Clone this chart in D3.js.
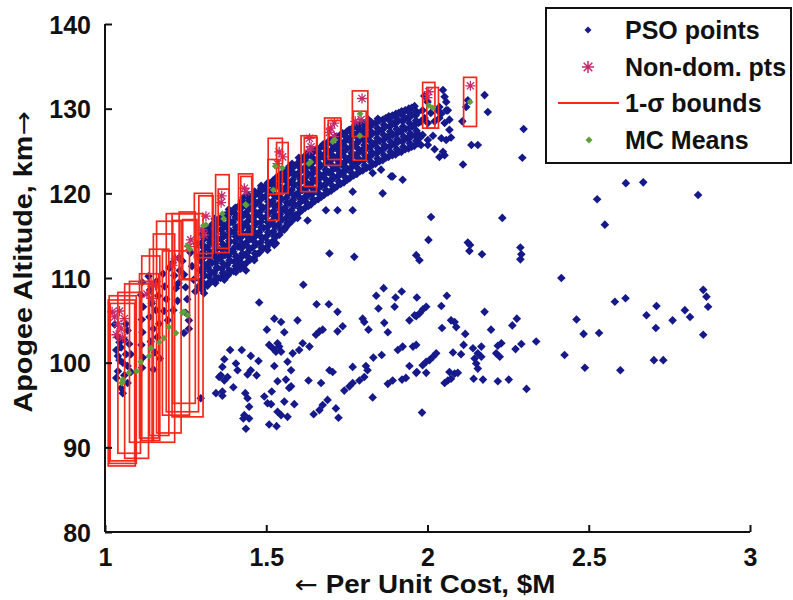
<!DOCTYPE html>
<html>
<head>
<meta charset="utf-8">
<script src="https://cdn.jsdelivr.net/npm/d3@7"></script>
<style>
  body { margin: 0; background: #fff; }
  svg text { font-family: "Liberation Sans", Arial, sans-serif; font-weight: bold; fill: #111; }
  svg tspan.arrow { font-family: "DejaVu Sans", sans-serif; font-weight: normal; }
</style>
</head>
<body>
<svg id="chart" width="793" height="600"></svg>
<script>
// axis ticks
let xTicks = [1, 1.5, 2, 2.5, 3];
let yTicks = [80, 90, 100, 110, 120, 130, 140];

// PSO points inside the 1-sigma boxes on the left
let psoInBoxes = [
  [1.03,104.5],[1.04,103.0],[1.035,101.5],[1.045,100.3],[1.04,99.0],[1.05,101.8],[1.055,100.0],[1.06,102.7],
  [1.065,101.0],[1.07,99.6],[1.06,98.5],[1.07,103.8],[1.075,102.2],[1.05,97.0],[1.055,96.4],[1.035,98.2],
  [1.045,102.4],[1.065,104.6],[1.08,101.0],[1.08,98.9],[1.04,100.8],[1.07,97.6],
  [1.115,109.5],[1.112,108.0],[1.118,106.6],[1.114,105.1],[1.116,103.6],[1.113,102.1],[1.117,100.6],[1.115,99.4],
  [1.135,110.2],[1.14,108.6],[1.145,107.0],[1.138,105.4],[1.15,104.0],[1.142,102.5],[1.155,101.2],[1.16,109.6],
  [1.165,107.9],[1.158,106.2],[1.168,104.6],[1.162,103.0],[1.17,100.5],[1.15,99.2],
  [1.18,110.5],[1.185,109.0],[1.19,107.5],[1.183,106.1],[1.195,105.0],[1.2,111.2],
  [1.21,111.8],[1.215,110.3],[1.22,108.8],[1.225,107.3],[1.212,106.2],[1.23,112.4],[1.232,110.9],[1.228,109.4],
  [1.24,112.0],[1.245,110.4],[1.25,108.9],[1.255,107.5],[1.25,105.9],[1.26,105.0],[1.265,113.0],[1.27,111.4],
  [1.275,109.8],[1.28,108.4],[1.285,114.0],[1.29,112.5],[1.295,110.9],[1.3,109.3],[1.297,95.8],[1.26,104.0],[1.245,103.5]
];

// dense PSO band
let psoBand = [
  [1.302,108.6],[1.298,109.7],[1.304,110.8],[1.300,111.9],[1.303,113.0],[1.299,114.1],[1.301,115.2],
  [1.318,109.1],[1.322,110.2],[1.319,111.3],[1.323,112.5],[1.317,113.6],[1.321,114.7],[1.320,115.8],
  [1.342,109.4],[1.338,110.6],[1.343,111.8],[1.339,112.9],[1.341,114.0],[1.337,115.1],[1.344,116.2],[1.340,117.0],
  [1.358,110.0],[1.362,111.1],[1.357,112.3],[1.363,113.4],[1.359,114.6],[1.361,115.7],[1.356,116.8],
  [1.381,110.3],[1.378,111.5],[1.383,112.6],[1.379,113.8],[1.382,114.9],[1.377,116.0],[1.380,117.2],[1.384,118.1],
  [1.399,110.8],[1.402,111.9],[1.398,113.1],[1.403,114.3],[1.400,115.4],[1.397,116.6],[1.401,117.7],
  [1.421,111.1],[1.418,112.3],[1.423,113.5],[1.419,114.7],[1.422,115.8],[1.417,117.0],[1.420,118.2],[1.424,119.1],
  [1.439,111.8],[1.442,113.0],[1.438,114.2],[1.443,115.4],[1.440,116.6],[1.437,117.7],[1.441,118.9],[1.444,119.8],
  [1.461,112.3],[1.458,113.6],[1.463,114.8],[1.459,116.0],[1.462,117.2],[1.457,118.4],[1.460,119.6],
  [1.479,113.0],[1.482,114.2],[1.478,115.4],[1.483,116.6],[1.480,117.8],[1.477,119.0],[1.481,120.2],[1.484,120.9],
  [1.501,113.6],[1.498,114.8],[1.503,116.0],[1.499,117.2],[1.502,118.4],[1.497,119.6],[1.500,120.8],
  [1.519,114.3],[1.522,115.5],[1.518,116.7],[1.523,117.9],[1.520,119.1],[1.517,120.3],[1.521,121.5],
  [1.541,115.1],[1.538,116.3],[1.543,117.5],[1.539,118.7],[1.542,119.9],[1.537,121.0],[1.540,122.1],
  [1.559,115.9],[1.562,117.1],[1.558,118.3],[1.563,119.5],[1.560,120.7],[1.557,121.8],[1.561,122.7],
  [1.581,116.8],[1.578,118.0],[1.583,119.2],[1.579,120.4],[1.582,121.6],[1.577,122.7],[1.580,123.5],
  [1.599,117.6],[1.602,118.8],[1.598,120.0],[1.603,121.2],[1.600,122.4],[1.597,123.5],[1.601,124.2],
  [1.621,118.3],[1.618,119.5],[1.623,120.7],[1.619,121.9],[1.622,123.1],[1.617,124.3],
  [1.639,118.7],[1.642,119.9],[1.638,121.1],[1.643,122.3],[1.640,123.5],[1.637,124.6],[1.641,125.1],
  [1.661,119.3],[1.658,120.5],[1.663,121.7],[1.659,122.9],[1.662,124.1],[1.657,125.3],
  [1.679,119.8],[1.682,121.0],[1.678,122.2],[1.683,123.4],[1.680,124.6],[1.677,125.8],
  [1.701,120.3],[1.698,121.5],[1.703,122.7],[1.699,123.9],[1.702,125.1],[1.697,126.2],
  [1.719,120.8],[1.722,122.0],[1.718,123.2],[1.723,124.4],[1.720,125.6],[1.717,126.7],
  [1.741,121.3],[1.738,122.5],[1.743,123.7],[1.739,124.9],[1.742,126.1],[1.737,127.1],
  [1.759,121.8],[1.762,123.0],[1.758,124.2],[1.763,125.4],[1.760,126.6],[1.757,127.5],
  [1.781,122.3],[1.778,123.5],[1.783,124.7],[1.779,125.9],[1.782,127.1],[1.777,128.0],
  [1.799,122.7],[1.802,123.9],[1.798,125.1],[1.803,126.3],[1.800,127.5],[1.797,128.4],
  [1.821,123.1],[1.818,124.3],[1.823,125.5],[1.819,126.7],[1.822,127.9],[1.817,128.7],
  [1.839,123.5],[1.842,124.7],[1.838,125.9],[1.843,127.1],[1.840,128.3],
  [1.861,123.9],[1.858,125.1],[1.863,126.3],[1.859,127.5],[1.862,128.7],
  [1.879,124.3],[1.882,125.5],[1.878,126.7],[1.883,127.9],[1.880,129.1],
  [1.901,124.6],[1.898,125.8],[1.903,127.0],[1.899,128.2],[1.902,129.4],
  [1.919,124.9],[1.922,126.1],[1.918,127.3],[1.923,128.5],[1.920,129.7],
  [1.941,125.3],[1.938,126.5],[1.943,127.7],[1.939,128.9],[1.942,130.0],
  [1.959,125.6],[1.962,126.8],[1.958,128.0],[1.963,129.2],[1.960,130.3]
];

// more of the band, read between the columns above
let psoBand2 = [
  [1.311,109.2],[1.309,110.3],[1.312,111.4],[1.308,112.5],[1.311,113.6],[1.310,114.7],[1.312,115.8],
  [1.331,109.6],[1.329,110.7],[1.332,111.8],[1.328,113.0],[1.331,114.1],[1.330,115.2],[1.332,116.3],
  [1.351,110.0],[1.349,111.2],[1.352,112.4],[1.348,113.5],[1.351,114.6],[1.350,115.7],[1.352,116.9],
  [1.371,110.4],[1.369,111.6],[1.372,112.7],[1.368,113.9],[1.371,115.0],[1.370,116.2],[1.372,117.4],
  [1.391,110.8],[1.389,112.0],[1.392,113.2],[1.388,114.3],[1.391,115.5],[1.390,116.6],[1.392,117.8],
  [1.411,111.3],[1.409,112.5],[1.412,113.7],[1.408,114.9],[1.411,116.0],[1.410,117.2],[1.412,118.4],
  [1.431,111.5],[1.429,112.7],[1.432,113.9],[1.428,115.1],[1.431,116.3],[1.430,117.4],[1.432,118.6],[1.429,119.5],
  [1.451,112.2],[1.449,113.4],[1.452,114.6],[1.448,115.8],[1.451,117.0],[1.450,118.2],[1.452,119.3],
  [1.471,112.8],[1.469,114.0],[1.472,115.2],[1.468,116.4],[1.471,117.6],[1.470,118.8],[1.472,120.0],
  [1.491,113.5],[1.489,114.7],[1.492,115.9],[1.488,117.1],[1.491,118.3],[1.490,119.5],[1.492,120.6],
  [1.511,114.1],[1.509,115.3],[1.512,116.5],[1.508,117.7],[1.511,118.9],[1.510,120.1],[1.512,121.2],
  [1.531,114.9],[1.529,116.1],[1.532,117.3],[1.528,118.5],[1.531,119.7],[1.530,120.9],[1.532,121.9],
  [1.551,115.7],[1.549,116.9],[1.552,118.1],[1.548,119.3],[1.551,120.5],[1.550,121.6],[1.552,122.5],
  [1.571,116.4],[1.569,117.6],[1.572,118.8],[1.568,120.0],[1.571,121.2],[1.570,122.3],[1.572,123.2],
  [1.591,117.4],[1.589,118.6],[1.592,119.8],[1.588,121.0],[1.591,122.2],[1.590,123.3],
  [1.611,118.0],[1.609,119.2],[1.612,120.4],[1.608,121.6],[1.611,122.8],[1.610,123.9],
  [1.631,118.5],[1.629,119.7],[1.632,120.9],[1.628,122.1],[1.631,123.3],[1.630,124.5],
  [1.651,119.1],[1.649,120.3],[1.652,121.5],[1.648,122.7],[1.651,123.9],[1.650,125.0],
  [1.671,119.6],[1.669,120.8],[1.672,122.0],[1.668,123.2],[1.671,124.4],[1.670,125.5],
  [1.691,120.1],[1.689,121.3],[1.692,122.5],[1.688,123.7],[1.691,124.9],[1.690,126.0],
  [1.711,120.6],[1.709,121.8],[1.712,123.0],[1.708,124.2],[1.711,125.4],[1.710,126.5],
  [1.731,121.1],[1.729,122.3],[1.732,123.5],[1.728,124.7],[1.731,125.9],[1.730,126.9],
  [1.751,121.6],[1.749,122.8],[1.752,124.0],[1.748,125.2],[1.751,126.4],[1.750,127.3],
  [1.771,122.1],[1.769,123.3],[1.772,124.5],[1.768,125.7],[1.771,126.9],[1.770,127.8],
  [1.791,122.6],[1.789,123.8],[1.792,125.0],[1.788,126.2],[1.791,127.4],[1.790,128.2],
  [1.811,123.0],[1.809,124.2],[1.812,125.4],[1.808,126.6],[1.811,127.8],
  [1.831,123.4],[1.829,124.6],[1.832,125.8],[1.828,127.0],[1.831,128.2],
  [1.851,123.8],[1.849,125.0],[1.852,126.2],[1.848,127.4],[1.851,128.6],
  [1.871,124.2],[1.869,125.4],[1.872,126.6],[1.868,127.8],[1.871,128.9],
  [1.891,124.5],[1.889,125.7],[1.892,126.9],[1.888,128.1],[1.891,129.2],
  [1.911,124.9],[1.909,126.1],[1.912,127.3],[1.908,128.5],[1.911,129.5],
  [1.931,125.2],[1.929,126.4],[1.932,127.6],[1.928,128.8],[1.931,129.8],
  [1.951,125.5],[1.949,126.7],[1.952,127.9],[1.948,129.1],[1.951,130.1],
  [1.971,125.9],[1.969,127.1],[1.972,128.3],[1.968,129.5]
];

// band points that fill the rows in between
let psoBand3 = [
  [1.305,109.2],[1.305,110.3],[1.306,111.4],[1.304,112.5],[1.305,113.6],[1.306,114.7],[1.305,115.7],
  [1.325,109.6],[1.326,110.8],[1.324,111.9],[1.325,113.0],[1.326,114.2],[1.325,115.3],
  [1.345,110.0],[1.346,111.2],[1.344,112.4],[1.345,113.5],[1.346,114.6],[1.345,115.7],[1.344,116.7],
  [1.365,110.6],[1.366,111.7],[1.364,112.9],[1.365,114.0],[1.366,115.2],[1.365,116.3],[1.364,117.3],
  [1.385,110.9],[1.386,112.1],[1.384,113.2],[1.385,114.4],[1.386,115.5],[1.385,116.6],[1.384,117.7],
  [1.405,111.4],[1.406,112.5],[1.404,113.7],[1.405,114.9],[1.406,116.0],[1.405,117.2],[1.404,118.3],
  [1.425,111.7],[1.426,112.9],[1.424,114.1],[1.425,115.3],[1.426,116.4],[1.425,117.6],[1.424,118.7],
  [1.445,112.4],[1.446,113.6],[1.444,114.8],[1.445,116.0],[1.446,117.2],[1.445,118.3],[1.444,119.5],
  [1.465,112.9],[1.466,114.2],[1.464,115.4],[1.465,116.6],[1.466,117.8],[1.465,119.0],[1.464,120.2],
  [1.485,113.6],[1.486,114.8],[1.484,116.0],[1.485,117.2],[1.486,118.4],[1.485,119.6],[1.484,120.6],
  [1.505,114.2],[1.506,115.4],[1.504,116.6],[1.505,117.8],[1.506,119.0],[1.505,120.2],[1.504,121.2],
  [1.525,114.9],[1.526,116.1],[1.524,117.3],[1.525,118.5],[1.526,119.7],[1.525,120.9],
  [1.545,115.7],[1.546,116.9],[1.544,118.1],[1.545,119.3],[1.546,120.5],[1.545,121.6],
  [1.565,116.5],[1.566,117.7],[1.564,118.9],[1.565,120.1],[1.566,121.3],[1.565,122.4],
  [1.585,117.4],[1.586,118.6],[1.584,119.8],[1.585,121.0],[1.586,122.2],[1.585,123.2],
  [1.605,118.2],[1.606,119.4],[1.604,120.6],[1.605,121.8],[1.606,123.0],[1.605,123.9],
  [1.625,118.9],[1.626,120.1],[1.624,121.3],[1.625,122.5],[1.626,123.7],[1.625,124.6],
  [1.645,119.3],[1.646,120.5],[1.644,121.7],[1.645,122.9],[1.646,124.1],[1.645,124.9],
  [1.665,119.9],[1.666,121.1],[1.664,122.3],[1.665,123.5],[1.666,124.7],
  [1.685,120.4],[1.686,121.6],[1.684,122.8],[1.685,124.0],[1.686,125.2],
  [1.705,120.9],[1.706,122.1],[1.704,123.3],[1.705,124.5],[1.706,125.7],
  [1.725,121.4],[1.726,122.6],[1.724,123.8],[1.725,125.0],[1.726,126.2],
  [1.745,121.9],[1.746,123.1],[1.744,124.3],[1.745,125.5],[1.746,126.7],
  [1.765,122.4],[1.766,123.6],[1.764,124.8],[1.765,126.0],[1.766,127.2],
  [1.785,122.9],[1.786,124.1],[1.784,125.3],[1.785,126.5],[1.786,127.6],
  [1.805,123.3],[1.806,124.5],[1.804,125.7],[1.805,126.9],[1.806,128.0],
  [1.825,123.7],[1.826,124.9],[1.824,126.1],[1.825,127.3],[1.826,128.4],
  [1.845,124.1],[1.846,125.3],[1.844,126.5],[1.845,127.7],[1.846,128.8],
  [1.865,124.5],[1.866,125.7],[1.864,126.9],[1.865,128.1],
  [1.885,124.9],[1.886,126.1],[1.884,127.3],[1.885,128.5],
  [1.905,125.2],[1.906,126.4],[1.904,127.6],[1.905,128.8],
  [1.925,125.5],[1.926,126.7],[1.924,127.9],[1.925,129.1],
  [1.945,125.9],[1.946,127.1],[1.944,128.3],[1.945,129.5],
  [1.965,126.2],[1.966,127.4],[1.964,128.6],[1.965,129.7]
];

// loose points just under the band
let psoEdge = [
  [1.504,113.3],[1.530,114.1],[1.561,116.1],[1.577,117.2],[1.628,116.8],[1.685,118.0],[1.721,118.0],[1.768,120.2],
  [1.856,122.8],[1.887,122.0],[1.696,112.9],[1.773,112.5],[1.406,110.7],[1.437,110.9],[1.463,112.1],[1.411,111.7],
  [1.370,109.8],[1.307,108.2],[1.29,109.0],[1.768,118.0],[1.861,120.0],[1.830,122.4],[1.892,122.0],[1.525,113.9],
  [1.556,115.7],[1.597,117.1],[1.742,123.1],[1.923,121.6]
];

// cluster around cost 2.0 - 2.2
let psoCluster = [
  [2.048,132.2],[2.053,131.4],[2.058,130.8],[1.985,129.8],[1.991,128.9],[1.980,128.5],[2.001,128.3],[2.032,129.8],
  [2.043,129.4],[2.063,129.8],[2.068,128.7],[2.053,128.3],[2.037,128.9],[2.022,128.5],[2.177,131.6],[2.187,129.6],
  [2.12,130.2],[2.108,128.5],[1.985,126.9],[1.975,126.5],[2.001,126.3],[2.017,126.8],[2.043,126.5],[2.058,126.3],
  [2.073,126.6],[1.980,125.7],[2.001,125.7],[2.022,125.2],[2.048,124.9],[2.053,124.5],[2.037,124.3],[2.136,125.7],
  [2.156,125.7],[2.11,123.4],[2.298,127.6],[2.294,124.2],[2.037,130.2],[2.058,129.8],[2.068,127.5],[2.125,131.0],
  [2.0,130.8],[2.01,129.5],[1.99,131.5]
];

// sparse points to the upper right
let psoUpperSparse = [
  [2.615,121.2],[2.669,121.3],[2.526,119.3],[2.550,116.3],[2.839,119.8],[2.011,117.2],[2.232,117.1],[2.003,114.5],
  [2.125,114.2],[2.132,113.9],[2.130,113.2],[2.169,112.8],[1.965,112.7],[1.975,112.1],[2.288,113.6],[2.291,112.8],
  [2.288,112.2],[2.415,110.0],[1.615,109.2]
];

// lower cloud, left half
let psoLower = [
  [1.478,107.1],[1.656,106.9],[1.694,106.9],[1.721,106.0],[1.525,105.2],[1.546,104.8],[1.597,105.0],[1.502,103.9],
  [1.556,103.6],[1.654,103.3],[1.665,103.7],[1.675,103.9],[1.721,103.7],[1.737,104.3],[1.799,105.2],[1.804,104.8],
  [1.817,103.9],[1.841,107.9],[1.864,108.8],[1.901,107.7],[1.920,108.4],[1.967,107.7],[1.848,106.4],[1.898,106.6],
  [1.866,104.7],[1.877,103.6],[1.944,105.0],[1.960,105.6],[1.388,101.5],[1.424,101.5],[1.370,100.4],[1.364,99.5],
  [1.359,98.5],[1.380,98.3],[1.370,97.9],[1.406,99.9],[1.411,99.1],[1.452,100.8],[1.476,100.2],[1.452,99.1],
  [1.442,98.6],[1.470,98.5],[1.509,102.1],[1.520,101.7],[1.535,102.3],[1.540,101.9],[1.530,101.3],[1.546,101.3],
  [1.525,99.6],[1.566,100.1],[1.577,99.1],[1.582,101.1],[1.602,101.5],[1.613,102.3],[1.634,101.9],[1.398,97.1],
  [1.364,96.6],[1.364,96.1],[1.435,96.4],[1.442,95.8],[1.447,94.8],[1.432,93.8],[1.447,93.4],[1.429,93.4],
  [1.437,92.2],[1.494,96.0],[1.504,95.2],[1.515,95.1],[1.517,96.6],[1.535,97.8],[1.561,98.0],[1.571,97.0],
  [1.577,97.2],[1.556,95.4],[1.587,95.1],[1.535,94.2],[1.546,93.8],[1.566,93.6],[1.509,92.7],[1.532,92.5],
  [1.631,97.9],[1.670,97.6],[1.696,99.1],[1.706,98.9],[1.690,95.6],[1.675,95.0],[1.665,94.4],[1.647,93.9],
  [1.716,94.6],[1.724,93.5],[1.742,96.7],[1.758,97.2],[1.768,97.6],[1.789,97.9],[1.804,98.3],[1.768,99.5],
  [1.809,99.6],[1.814,99.1],[1.832,100.6],[1.858,100.9],[1.830,95.9],[1.877,97.5],[1.892,97.9],[1.921,98.0],
  [1.933,98.2],[1.944,99.6],[1.965,98.8],[1.908,101.5],[1.923,101.9],[1.955,101.9],[1.965,102.1],[1.344,96.4],
  [1.354,98.3]
];

// lower cloud, right half
let psoRight = [
  [2.060,107.9],[2.043,106.7],[1.996,106.6],[1.986,106.3],[1.975,105.8],[1.965,105.5],[2.177,106.0],[2.045,104.1],
  [2.073,105.0],[2.084,104.8],[2.089,104.2],[2.117,103.4],[2.197,103.9],[2.263,104.4],[2.277,105.2],[2.462,105.1],
  [2.484,103.4],[2.532,103.5],[2.337,102.5],[2.291,102.2],[2.273,101.6],[2.229,102.3],[2.218,102.0],[2.213,101.1],
  [2.224,100.7],[2.167,101.9],[2.141,101.7],[2.156,101.1],[2.146,100.5],[2.151,99.9],[2.156,99.3],[2.167,100.7],
  [2.112,102.1],[2.079,101.2],[2.104,101.0],[2.027,101.1],[2.017,100.7],[2.006,100.3],[1.996,100.1],[1.985,99.7],
  [1.967,98.9],[1.996,98.8],[2.068,98.9],[2.084,98.7],[2.094,98.8],[2.053,97.6],[2.063,97.9],[2.073,98.1],
  [2.143,98.1],[2.172,98.0],[2.218,97.8],[2.252,98.0],[2.307,96.9],[1.983,94.1],[2.425,100.9],[2.488,99.4],
  [2.581,107.2],[2.614,107.6],[2.598,99.1],[2.679,105.6],[2.710,106.7],[2.708,104.1],[2.702,100.3],[2.731,100.3],
  [2.760,105.0],[2.798,106.2],[2.814,105.4],[2.855,108.6],[2.865,107.8],[2.870,106.6],[2.855,103.3]
];

// non-dominated points
let nonDom = [
  [2.133,132.7],[2.004,132.0],[2.0,131.3],[1.797,131.2],[1.794,128.7],[1.776,128.5],[1.711,128.3],[1.700,127.7],
  [1.696,127.2],[1.711,126.7],[1.634,126.5],[1.639,125.5],[1.634,125.1],[1.540,124.9],[1.551,124.3],[1.535,123.5],
  [1.432,120.6],[1.437,120.2],[1.362,119.7],[1.360,118.9],[1.313,117.3],[1.302,115.7],[1.307,115.1],[1.266,114.5],
  [1.261,113.7],[1.219,112.3],[1.209,111.5],[1.143,109.4],[1.157,109.1],[1.130,108.1],[1.145,107.6],[1.022,106.0],
  [1.030,105.4],[1.040,104.6],[1.050,104.0],[1.035,103.3],[1.060,105.2],[1.045,106.1],[1.055,103.0]
];

// Monte Carlo means and 1-sigma half widths
let mcX = [1.052,1.055,1.054,1.075,1.098,1.111,1.137,1.142,1.168,1.183,1.198,1.220,1.240,1.256,1.245,1.255,1.263,1.305,
  1.313,1.364,1.368,1.436,1.438,1.522,1.528,1.550,1.632,1.638,1.706,1.712,1.791,1.790,2.004,2.016,2.132];
let mcY = [97.6,98.0,97.7,98.8,99.0,100.1,100.8,101.7,102.4,102.9,104.2,103.5,105.9,105.6,106.0,113.8,113.4,116.2,
  116.3,117.6,117.0,118.7,118.6,120.4,123.2,123.0,123.5,123.7,126.1,126.3,129.4,126.8,130.4,130.1,130.8];
let sigX = [0.042,0.042,0.038,0.035,0.037,0.035,0.030,0.028,0.030,0.033,0.038,0.042,0.050,0.048,0.035,0.025,0.022,0.028,
  0.022,0.021,0.017,0.022,0.017,0.017,0.022,0.018,0.024,0.020,0.025,0.020,0.024,0.020,0.019,0.018,0.020];
let sigY = [9.8,9.9,9.3,9.5,10.3,9.5,9.7,10.9,11.0,12.3,12.5,9.7,11.7,12.0,10.8,4.0,3.5,3.8,
  3.4,4.6,3.5,3.6,3.4,3.6,3.3,3.0,3.3,2.9,2.8,2.3,2.7,2.9,2.7,2.4,2.9];

let legendLabels = ['PSO points', 'Non-dom. pts', '1-\u03c3 bounds', 'MC Means'];

let colBlue = '#15198a', colPink = '#c42a6c', colRed = '#f3291b', colGreen = '#5f9e3c';

let svg = d3.select('#chart');

let x = d3.scaleLinear().domain([1, 3]).range([105, 750]);
let y = d3.scaleLinear().domain([80, 140]).range([532, 24]);

let diamond = r => `M0,${-r}L${r},0L0,${r}L${-r},0Z`;
let star = r => {
  let d = r * 0.72;
  return `M${-r},0H${r}M0,${-r}V${r}M${-d},${-d}L${d},${d}M${-d},${d}L${d},${-d}`;
};

let pso = [].concat(psoInBoxes, psoBand, psoBand2, psoBand3, psoEdge, psoCluster, psoUpperSparse, psoLower, psoRight);

// PSO points
svg.append('g')
  .selectAll('path')
  .data(pso)
  .enter().append('path')
    .attr('transform', d => `translate(${x(d[0])},${y(d[1])})`)
    .attr('d', diamond(4.3))
    .attr('fill', colBlue);

// non-dominated points
svg.append('g')
  .selectAll('path')
  .data(nonDom)
  .enter().append('path')
    .attr('transform', d => `translate(${x(d[0])},${y(d[1])})`)
    .attr('d', star(5))
    .attr('stroke', colPink)
    .attr('stroke-width', 1.3)
    .attr('fill', 'none');

// 1-sigma boxes
let boxes = mcX.map((v, i) => ({x0: v - sigX[i], x1: v + sigX[i], y0: mcY[i] - sigY[i], y1: mcY[i] + sigY[i]}));
svg.append('g')
  .selectAll('rect')
  .data(boxes)
  .enter().append('rect')
    .attr('x', d => x(d.x0))
    .attr('y', d => y(d.y1))
    .attr('width', d => x(d.x1) - x(d.x0))
    .attr('height', d => y(d.y0) - y(d.y1))
    .attr('fill', 'none')
    .attr('stroke', colRed)
    .attr('stroke-width', 1.7);

// MC means
svg.append('g')
  .selectAll('path')
  .data(mcX)
  .enter().append('path')
    .attr('transform', (d, i) => `translate(${x(d)},${y(mcY[i])})`)
    .attr('d', diamond(3.4))
    .attr('fill', colGreen);

// axes, ticks pointing inwards
let gx = svg.append('g')
  .attr('transform', `translate(0,${y(80)})`)
  .call(d3.axisBottom(x).tickValues(xTicks).tickSize(-7).tickPadding(16).tickFormat(d3.format('')));
let gy = svg.append('g')
  .attr('transform', `translate(${x(1)},0)`)
  .call(d3.axisLeft(y).tickValues(yTicks).tickSize(-7).tickPadding(14));

[gx, gy].forEach(g => {
  g.select('.domain').attr('stroke', '#111').attr('stroke-width', 2);
  g.selectAll('.tick line').attr('stroke', '#111').attr('stroke-width', 2);
  g.selectAll('.tick text').attr('font-size', 25).attr('fill', '#111');
});
gx.select('.domain').attr('d', `M${x(1)},0H${x(3)}`);
gy.select('.domain').attr('d', `M0,${y(80)}V${y(140)}`);
gy.selectAll('.tick text').attr('dy', '0.36em');

// axis titles (the scanned lettering is a bit wider than the font)
let xt = svg.append('text')
  .attr('transform', 'translate(425,593) scale(1.11,1)')
  .attr('text-anchor', 'middle')
  .attr('font-size', 25);
xt.append('tspan').attr('class', 'arrow').text('\u2190');
xt.append('tspan').text(' Per Unit Cost, $M');

let yt = svg.append('text')
  .attr('transform', 'translate(32,262) rotate(-90) scale(1.15,1)')
  .attr('text-anchor', 'middle')
  .attr('font-size', 25);
yt.append('tspan').text('Apogee Altitude, km');
yt.append('tspan').attr('class', 'arrow').text('\u2192');

// legend
let lg = svg.append('g');
lg.append('rect')
  .attr('x', 546).attr('y', 8)
  .attr('width', 245).attr('height', 155)
  .attr('fill', '#fff')
  .attr('stroke', '#111')
  .attr('stroke-width', 2);

let rowY = [30, 67, 103, 140];
lg.append('path').attr('transform', `translate(588,${rowY[0]})`).attr('d', diamond(3.5)).attr('fill', colBlue);
lg.append('path').attr('transform', `translate(588,${rowY[1]})`).attr('d', star(6))
  .attr('stroke', colPink).attr('stroke-width', 1.5).attr('fill', 'none');
lg.append('line').attr('x1', 558).attr('x2', 619).attr('y1', rowY[2]).attr('y2', rowY[2])
  .attr('stroke', colRed).attr('stroke-width', 1.8);
lg.append('path').attr('transform', `translate(589,${rowY[3]})`).attr('d', diamond(3.5)).attr('fill', colGreen);

lg.selectAll('text.lab')
  .data(legendLabels)
  .enter().append('text')
    .attr('class', 'lab')
    .attr('x', 625)
    .attr('y', (d, i) => rowY[i] + 9)
    .attr('font-size', 25)
    .text(d => d);
</script>
</body>
</html>
